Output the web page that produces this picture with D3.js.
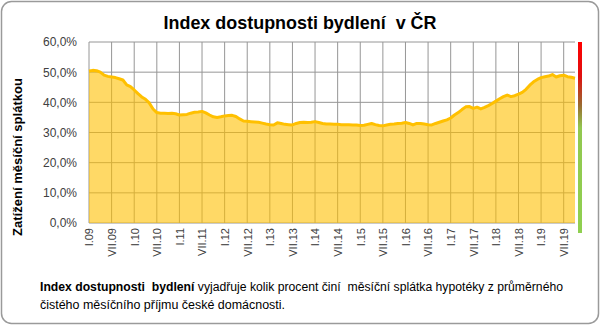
<!DOCTYPE html>
<html><head><meta charset="utf-8">
<script src="https://cdnjs.cloudflare.com/ajax/libs/d3/7.8.5/d3.min.js"></script>
<style>html,body{margin:0;padding:0;background:#fff;}svg{display:block;}text{white-space:pre;}</style>
</head><body>
<script>
const titleText = "Index dostupnosti bydlení  v ČR";
const yTitle = "Zatížení měsíční splátkou";
const noteBold = "Index dostupnosti  bydlení";
const noteRest = " vyjadřuje kolik procent činí  měsíční splátka hypotéky z průměrného";
const noteLine2 = "čistého měsíčního příjmu české domácnosti.";
const yTicks = [0, 10, 20, 30, 40, 50, 60];
const xTickIndex = [0,6,12,18,24,30,36,42,48,54,60,66,72,78,84,90,96,102,108,114,120,126];
const xTickLabels = ["I.09","VII.09","I.10","VII.10","I.11","VII.11","I.12","VII.12","I.13","VII.13","I.14","VII.14","I.15","VII.15","I.16","VII.16","I.17","VII.17","I.18","VII.18","I.19","VII.19"];
// monthly index values, I.2009 .. X.2019 (%)
const values = [
50.4,50.6,50.5,50.0,49.0,48.6,48.4,48.2,47.8,47.4,45.8,45.2,
44.1,42.9,41.8,41.0,39.8,37.8,36.6,36.4,36.4,36.3,36.4,36.2,
35.8,35.9,36.0,36.4,36.7,36.8,37.0,36.5,35.8,35.2,35.0,35.2,
35.5,35.6,35.7,35.3,34.5,33.8,33.7,33.6,33.5,33.4,33.1,32.8,
32.6,32.5,33.2,33.0,32.7,32.6,32.5,33.0,33.3,33.4,33.3,33.4,
33.6,33.3,33.0,32.8,32.8,32.7,32.7,32.6,32.6,32.6,32.5,32.5,
32.3,32.4,32.7,33.0,32.6,32.3,32.2,32.5,32.7,32.8,33.0,33.1,
33.3,33.0,32.5,33.0,33.0,32.8,32.6,32.5,33.0,33.4,33.8,34.2,
34.8,35.8,36.6,37.6,38.5,38.6,38.0,38.4,37.8,38.3,38.9,39.6,
40.4,41.2,41.9,42.4,41.9,42.2,42.7,43.3,44.3,45.7,46.8,47.6,
48.2,48.5,48.7,49.2,48.4,48.8,49.0,48.5,48.3,48.0];

const W = 600, H = 325;
const svg = d3.select("body").append("svg").attr("width", W).attr("height", H);

// outer frame
svg.append("rect").attr("x", 1.5).attr("y", 1.5).attr("width", W - 3).attr("height", H - 3)
  .attr("rx", 10).attr("fill", "#fff").attr("stroke", "#9a9a9a").attr("stroke-width", 1.5);

const x = d3.scaleLinear().domain([0, values.length - 1]).range([89, 575]);
const y = d3.scaleLinear().domain([0, 60]).range([223, 42]);

// gridlines
const grid = svg.append("g");
grid.selectAll("line.h").data(yTicks).join("line")
  .attr("x1", x(0)).attr("x2", x(values.length - 1))
  .attr("y1", d => y(d)).attr("y2", d => y(d))
  .attr("stroke", "#969696").attr("stroke-width", 1);
grid.selectAll("line.v").data(xTickIndex).join("line")
  .attr("x1", d => x(d)).attr("x2", d => x(d))
  .attr("y1", y(0)).attr("y2", y(60))
  .attr("stroke", "#969696").attr("stroke-width", 1);

// area + line
const area = d3.area().x((d, i) => x(i)).y0(y(0)).y1(d => y(d));
svg.append("path").datum(values).attr("d", area).attr("fill", "#FFC000").attr("fill-opacity", 0.6);
const line = d3.line().x((d, i) => x(i)).y(d => y(d));
svg.append("path").datum(values).attr("d", line).attr("fill", "none")
  .attr("stroke", "#FFC000").attr("stroke-width", 3).attr("stroke-linejoin", "round");

// gradient indicator bar
const defs = svg.append("defs");
const lg = defs.append("linearGradient").attr("id", "gbar").attr("x1", 0).attr("x2", 0).attr("y1", 0).attr("y2", 1);
lg.append("stop").attr("offset", "0%").attr("stop-color", "#ff0000");
lg.append("stop").attr("offset", "18%").attr("stop-color", "#e01010");
lg.append("stop").attr("offset", "33%").attr("stop-color", "#9a6a30");
lg.append("stop").attr("offset", "45%").attr("stop-color", "#92c850");
lg.append("stop").attr("offset", "100%").attr("stop-color", "#8fd050");
svg.append("rect").attr("x", 578).attr("y", y(60)).attr("width", 4).attr("height", 233 - y(60))
  .attr("fill", "url(#gbar)");

// y axis
const loc = d3.formatLocale({decimal: ",", thousands: " ", grouping: [3], currency: ["", ""]});
const fmt = loc.format(".1f");
const yAxis = svg.append("g").attr("transform", "translate(77,0)")
  .call(d3.axisLeft(y).tickValues(yTicks).tickSize(0).tickFormat(d => fmt(d) + "%"));
yAxis.select(".domain").remove();
yAxis.selectAll("text").attr("font-family", "Arial, 'Liberation Sans', sans-serif")
  .attr("font-size", 12).attr("fill", "#404040").attr("x", 0);

// x axis
const xAxis = svg.append("g").attr("transform", `translate(0,${y(0)})`)
  .call(d3.axisBottom(x).tickValues(xTickIndex).tickSize(0).tickFormat((d, i) => xTickLabels[i]));
xAxis.select(".domain").remove();
xAxis.selectAll("text").attr("font-family", "Arial, 'Liberation Sans', sans-serif")
  .attr("font-size", 11).attr("fill", "#404040")
  .attr("transform", "rotate(-90)").attr("x", -5).attr("y", 0).attr("dy", "0.35em")
  .attr("text-anchor", "end");

// title
svg.append("text").attr("x", 300).attr("y", 29).attr("text-anchor", "middle")
  .attr("font-family", "Arial, 'Liberation Sans', sans-serif").attr("font-weight", "bold")
  .attr("font-size", 19).attr("textLength", 273).attr("lengthAdjust", "spacingAndGlyphs")
  .text(titleText);

// y title
svg.append("text").attr("transform", "translate(22,157) rotate(-90)").attr("text-anchor", "middle")
  .attr("font-family", "Arial, 'Liberation Sans', sans-serif").attr("font-weight", "bold")
  .attr("font-size", 12).attr("textLength", 158).attr("lengthAdjust", "spacingAndGlyphs")
  .text(yTitle);

// footnote
const n1 = svg.append("text").attr("x", 40).attr("y", 291)
  .attr("font-family", "'Liberation Sans', Arial, sans-serif").attr("font-size", 12)
  .attr("textLength", 523).attr("lengthAdjust", "spacingAndGlyphs");
n1.append("tspan").attr("font-weight", "bold").text(noteBold);
n1.append("tspan").text(noteRest);
svg.append("text").attr("x", 40).attr("y", 309)
  .attr("font-family", "'Liberation Sans', Arial, sans-serif").attr("font-size", 12)
  .attr("textLength", 245).attr("lengthAdjust", "spacingAndGlyphs")
  .text(noteLine2);
</script>
</body></html>
